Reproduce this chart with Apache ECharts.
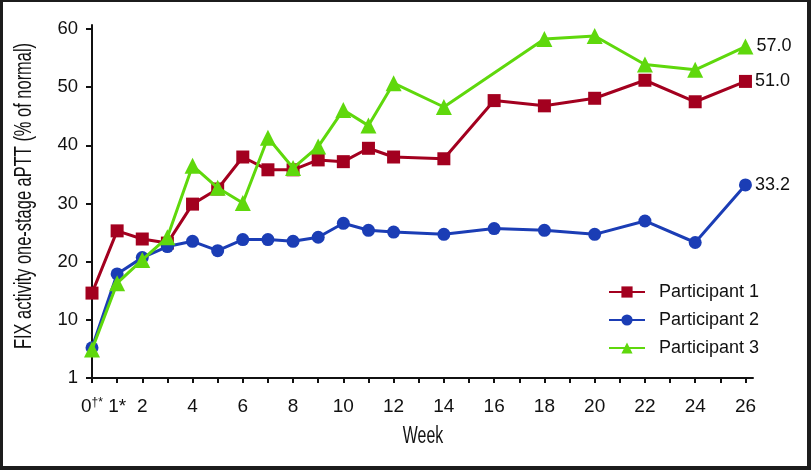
<!DOCTYPE html>
<html>
<head>
<meta charset="utf-8">
<script src="https://cdn.jsdelivr.net/npm/echarts@6/dist/echarts.min.js"></script>
<style>
  html, body { margin: 0; padding: 0; background: #fff; }
  #chart { position: absolute; left: 0; top: 0; width: 811px; height: 470px; }
  #frame { position: absolute; left: 0; top: 0; width: 811px; height: 470px; box-sizing: border-box;
           border-style: solid; border-color: #1c1c1c; border-width: 2px 4px 4px 3px; pointer-events: none; }
</style>
</head>
<body>
<div id="chart"></div>
<div id="frame"></div>
<script>
// ---- data ----
const weeksP1 = [0,1,2,3,4,5,6,7,8,9,10,11,12,14,16,18,20,22,24,26];
const weeksP2 = [0,1,2,3,4,5,6,7,8,9,10,11,12,14,16,18,20,22,24,26];
const weeksP3 = [0,1,2,3,4,5,6,7,8,9,10,11,12,14,18,20,22,24,26];
const participant1 = [14.6,25.3,23.9,23.2,29.9,32.5,38.0,35.8,35.8,37.5,37.2,39.5,38.0,37.7,47.7,46.8,48.1,51.2,47.5,51.0];
const participant2 = [5.2,17.9,20.7,22.6,23.5,21.9,23.8,23.8,23.5,24.2,26.6,25.4,25.1,24.7,25.7,25.4,24.7,27.0,23.3,33.2];
const participant3 = [4.9,16.3,20.3,24.2,36.5,32.7,30.1,41.3,36.1,39.8,46.1,43.4,50.7,46.6,58.3,58.8,53.9,53.0,57.0];
const seriesNames = ['Participant 1','Participant 2','Participant 3'];
const xTickValues = [0,1,2,3,4,5,6,7,8,9,10,11,12,13,14,15,16,17,18,19,20,21,22,23,24,25,26];
const xLabelValues = [0,1,2,4,6,8,10,12,14,16,18,20,22,24,26];
const yTickValues = [0,10,20,30,40,50,60];
const yAxisTitle = 'FIX activity one-stage aPTT (% of normal)';
const xAxisTitle = 'Week';

const colors = ['#a3001f', '#1b3db5', '#5fd80c'];
const symbols = ['rect', 'circle', 'triangle'];
const symbolSizes = [13, 13, 16];
const sets = [[weeksP1, participant1],[weeksP2, participant2],[weeksP3, participant3]];

const FONT = '"Liberation Sans", Arial, Helvetica, sans-serif';

const chart = echarts.init(document.getElementById('chart'), null, {renderer: 'canvas'});

const series = sets.map(([w, v], i) => {
  const last = v.length - 1;
  return {
    name: seriesNames[i],
    type: 'line',
    data: w.map((x, k) => [x, v[k]]),
    symbol: symbols[i],
    symbolSize: symbolSizes[i],
    showAllSymbol: true,
    lineStyle: { width: 3, color: colors[i] },
    itemStyle: { color: colors[i] },
    z: 2 + i,
    label: {
      show: true,
      position: 'right',
      distance: 3,
      fontFamily: FONT,
      fontSize: 18,
      color: '#111',
      formatter: p => p.dataIndex === last ? v[last].toFixed(1) : ''
    },
    emphasis: { disabled: true },
    animation: false
  };
});

chart.setOption({
  animation: false,
  backgroundColor: '#fff',
  color: colors,
  grid: { left: 92, right: 58, top: 25, bottom: 92, containLabel: false },
  legend: {
    orient: 'vertical',
    left: 603,
    top: 278,
    itemWidth: 36,
    itemHeight: 14,
    itemGap: 10,
    data: seriesNames,
    textStyle: { fontFamily: FONT, fontSize: 18, color: '#111', padding: [0, 0, 0, 9] }
  },
  graphic: [
    {
      type: 'text',
      x: 423, y: 437,
      scaleX: 0.69,
      silent: true,
      style: { text: xAxisTitle, font: '23px "Liberation Sans", Arial, sans-serif', fill: '#111',
               textAlign: 'center', textVerticalAlign: 'middle' }
    },
    {
      type: 'text',
      x: 25, y: 196,
      rotation: Math.PI / 2,
      scaleX: 0.715,
      silent: true,
      style: { text: yAxisTitle, font: '23px "Liberation Sans", Arial, sans-serif', fill: '#111',
               textAlign: 'center', textVerticalAlign: 'middle' }
    }
  ],
  xAxis: {
    type: 'value',
    min: 0,
    max: 26.3,
    axisLine: { show: true, lineStyle: { color: '#111', width: 2 } },
    axisTick: { show: true, length: 5, lineStyle: { color: '#111', width: 2 }, customValues: xTickValues },
    splitLine: { show: false },
    axisLabel: {
      customValues: xLabelValues,
      margin: 19,
      fontFamily: FONT,
      fontSize: 19,
      color: '#111',
      formatter: v => v === 0 ? '0{sup|†*}' : (v === 1 ? '1*' : String(v)),
      rich: { sup: { fontFamily: FONT, fontSize: 12, color: '#111', verticalAlign: 'top', padding: [0, 0, 8, 0] } }
    }
  },
  yAxis: {
    type: 'value',
    min: 0,
    max: 60.7,
    axisLine: { show: true, lineStyle: { color: '#111', width: 2 } },
    axisTick: { show: true, length: 6, lineStyle: { color: '#111', width: 2 }, customValues: yTickValues },
    splitLine: { show: false },
    axisLabel: {
      customValues: yTickValues,
      margin: 14,
      fontFamily: FONT,
      fontSize: 18.5,
      color: '#111',
      formatter: v => v === 0 ? '1' : String(v)
    }
  },
  series: series
});
</script>
</body>
</html>
